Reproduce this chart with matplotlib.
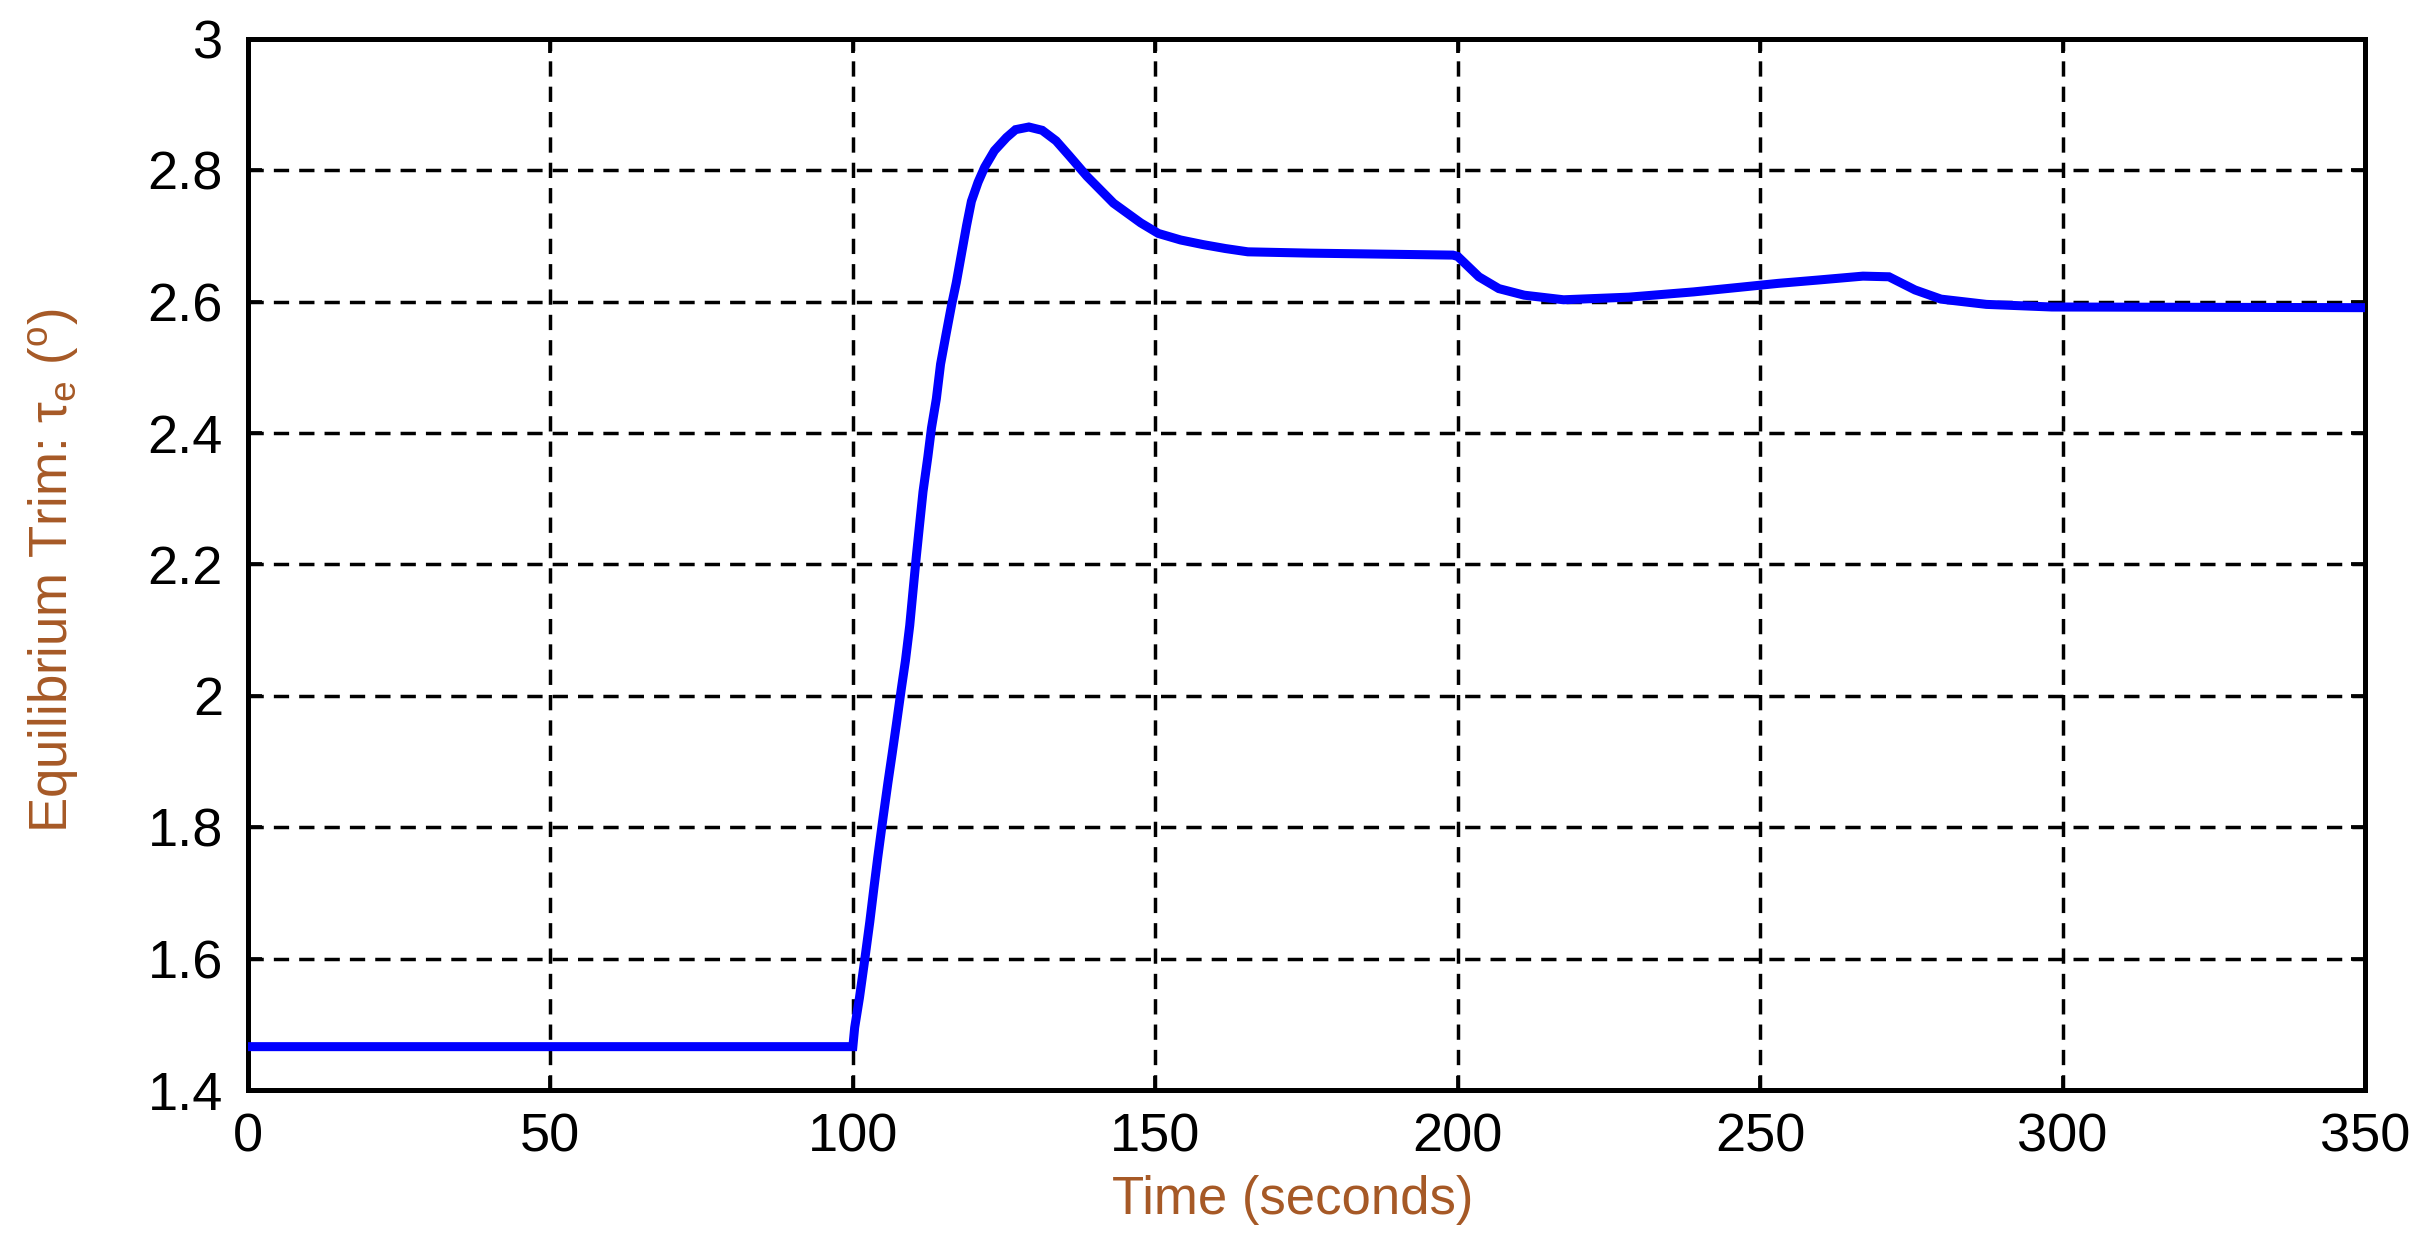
import matplotlib
matplotlib.use("Agg")
import matplotlib.pyplot as plt

# Data
time_s = [0, 100, 100.3, 101.1, 101.9, 102.8, 103.5, 104.1, 105.0, 105.8, 106.5,
          107.2, 108.0, 108.7, 109.4, 110.0, 110.5, 111.0, 111.6, 112.4, 113.0,
          113.8, 114.5, 115.4, 116.3, 117.1, 117.9, 118.8, 119.6, 120.7, 121.8,
          123.4, 125.4, 126.9, 129.1, 131.3, 133.6, 135.8, 138.7, 143.1, 147.6,
          150.5, 154.2, 157.9, 161.6, 165.3, 175.6, 199.2, 200.0, 203.5, 206.8,
          211.0, 217.5, 228.3, 239.0, 246.6, 253.0, 259.5, 267.0, 271.3, 275.6,
          279.9, 287.4, 298.2, 350.0]
trim_deg = [1.466, 1.466, 1.495, 1.541, 1.594, 1.656, 1.709, 1.753, 1.815, 1.868,
            1.912, 1.957, 2.010, 2.054, 2.107, 2.165, 2.213, 2.258, 2.311, 2.364,
            2.408, 2.452, 2.505, 2.550, 2.594, 2.629, 2.670, 2.716, 2.753, 2.782,
            2.805, 2.830, 2.850, 2.862, 2.866, 2.861, 2.845, 2.822, 2.791, 2.750,
            2.720, 2.704, 2.694, 2.687, 2.681, 2.676, 2.674, 2.671, 2.669, 2.638,
            2.620, 2.610, 2.603, 2.607, 2.615, 2.622, 2.628, 2.633, 2.639, 2.638,
            2.618, 2.604, 2.596, 2.592, 2.591]
x_ticks = [0, 50, 100, 150, 200, 250, 300, 350]
y_ticks = [1.4, 1.6, 1.8, 2.0, 2.2, 2.4, 2.6, 2.8, 3.0]
y_tick_labels = ["1.4", "1.6", "1.8", "2", "2.2", "2.4", "2.6", "2.8", "3"]

plt.rcParams['font.family'] = ['Liberation Sans', 'DejaVu Sans']
plt.rcParams['mathtext.fontset'] = 'custom'
plt.rcParams['mathtext.rm'] = 'Liberation Sans'
plt.rcParams['mathtext.it'] = 'Liberation Sans'

label_color = '#A65926'

fig = plt.figure(figsize=(24.19, 12.59), dpi=100)
fig.patch.set_facecolor('white')
ax = fig.add_axes([248/2419, (1259-1090)/1259, (2365-248)/2419, (1090-39)/1259])

ax.plot(time_s, trim_deg, color='#0000FF', lw=6.5, solid_joinstyle='miter', zorder=3)

ax.set_xlim(0, 350)
ax.set_ylim(1.4, 3.0)
ax.set_xticks(x_ticks)
ax.set_yticks(y_ticks)
ax.set_yticklabels(y_tick_labels)

ax.grid(True, color='black', linestyle=(0, (4.4, 2.9)), linewidth=2.5)
for s in ax.spines.values():
    s.set_linewidth(3.6)
    s.set_color('black')
ax.tick_params(axis='both', direction='in', length=10, width=2.7,
               labelsize=39, colors='black', top=True, right=True)
ax.tick_params(axis='x', pad=16)
ax.tick_params(axis='y', pad=18)

fig.text(1293/2419, (1259-1200)/1259, 'Time (seconds)', color=label_color,
         fontsize=38, ha='center', va='center')
fig.text(54/2419, (1259-571)/1259, 'Equilibrium Trim: τ$_{\\rm e}$ ($^{\\rm o}$)',
         color=label_color, fontsize=38, rotation=90, ha='center', va='center')

fig.savefig('out.png', dpi=100, facecolor='white')
